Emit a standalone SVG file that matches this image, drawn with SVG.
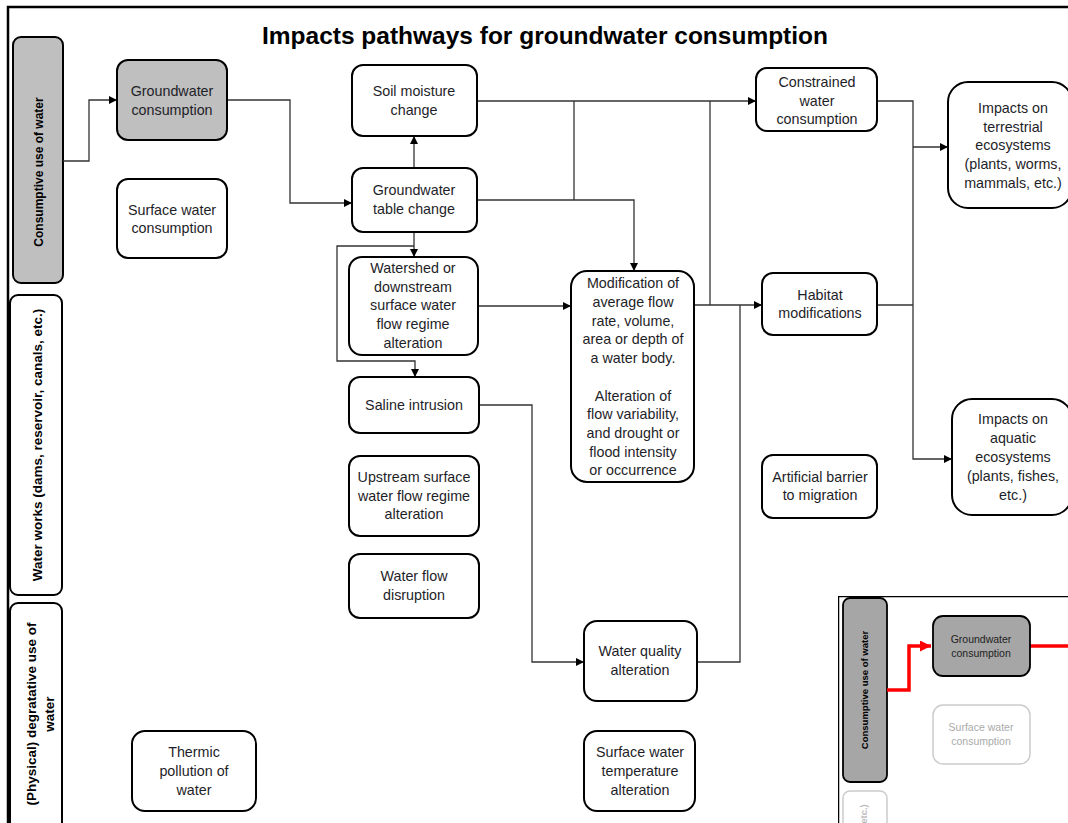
<svg xmlns="http://www.w3.org/2000/svg" width="1068" height="823" viewBox="0 0 1068 823">
<defs>
<marker id="arr" viewBox="0 0 10 10" refX="10" refY="5" markerWidth="9" markerHeight="8" markerUnits="userSpaceOnUse" orient="auto"><path d="M0,0 L10,5 L0,10 z" fill="#000"/></marker>
<marker id="arrR" viewBox="0 0 10 10" refX="10" refY="5" markerWidth="12" markerHeight="11" markerUnits="userSpaceOnUse" orient="auto"><path d="M0,0 L10,5 L0,10 z" fill="#f00"/></marker>
<clipPath id="insetClip"><rect x="838" y="596" width="230" height="227"/></clipPath>
</defs>
<style>
.box{fill:#fff;stroke:#000;stroke-width:2}
.gray{fill:#bfbfbf;stroke:#000;stroke-width:2}
.t{font-family:"Liberation Sans",Arial,sans-serif;font-size:14.3px;fill:#1e1e28;text-anchor:middle}
.cat{font-family:"Liberation Sans",Arial,sans-serif;font-size:13px;font-weight:bold;fill:#000;text-anchor:middle}
.c{fill:none;stroke:#333;stroke-width:1.3}
.cr{fill:none;stroke:#f00;stroke-width:3.5}
.ti{font-family:"Liberation Sans",Arial,sans-serif;font-size:10.5px;fill:#222;text-anchor:middle}
</style>
<rect width="1068" height="823" fill="#fff"/>
<path d="M8,823 V7 H1068" fill="none" stroke="#000" stroke-width="2.5"/>
<text x="545" y="44" font-family="'Liberation Sans',Arial,sans-serif" font-size="24" font-weight="bold" text-anchor="middle" textLength="566" lengthAdjust="spacingAndGlyphs" fill="#000">Impacts pathways for groundwater consumption</text>

<g id="cat-consumptive"><rect class="gray" x="13" y="37" width="50" height="246" rx="8"/><text class="cat" style="font-size:12px" transform="translate(43,172) rotate(-90)">Consumptive use of water</text></g>
<g id="cat-waterworks"><rect class="box" x="10" y="295" width="52" height="300" rx="8"/><text class="cat" style="font-size:13.5px" transform="translate(42,445) rotate(-90)">Water works (dams, reservoir, canals, etc.)</text></g>
<g id="cat-degrative"><rect class="box" x="10" y="603" width="52" height="240" rx="8"/><text class="cat" style="font-size:13.5px" transform="translate(36,714) rotate(-90)">(Physical) degratative use of</text><text class="cat" style="font-size:13.5px" transform="translate(54,714) rotate(-90)">water</text></g>

<g id="connectors">
<path class="c" d="M63,161 H89 V100 H117" marker-end="url(#arr)"/>
<path class="c" d="M227,100 H290 V203 H352" marker-end="url(#arr)"/>
<path class="c" d="M414,168 V136" marker-end="url(#arr)"/>
<path class="c" d="M414,232 V257" marker-end="url(#arr)"/>
<path class="c" d="M414,246 H337 V361 H415 V377" marker-end="url(#arr)"/>
<path class="c" d="M477,101 H756" marker-end="url(#arr)"/>
<path class="c" d="M574,101 V200"/>
<path class="c" d="M477,200 H634 V271" marker-end="url(#arr)"/>
<path class="c" d="M478,306 H571" marker-end="url(#arr)"/>
<path class="c" d="M694,305 H762" marker-end="url(#arr)"/>
<path class="c" d="M710,101 V305"/>
<path class="c" d="M479,405 H532 V662 H584" marker-end="url(#arr)"/>
<path class="c" d="M697,662 H740 V305"/>
<path class="c" d="M877,101 H913 V459 H952" marker-end="url(#arr)"/>
<path class="c" d="M877,305 H913"/>
<path class="c" d="M913,147 H948" marker-end="url(#arr)"/>
</g>

<g id="n-gwc"><rect class="gray" x="117" y="60" width="110" height="80" rx="11"/><text class="t" x="172" y="96">Groundwater</text><text class="t" x="172" y="115">consumption</text></g>
<g id="n-swc"><rect class="box" x="117" y="179" width="110" height="79" rx="11"/><text class="t" x="172" y="215">Surface water</text><text class="t" x="172" y="233">consumption</text></g>
<g id="n-soil"><rect class="box" x="352" y="65" width="125" height="71" rx="11"/><text class="t" x="414" y="96">Soil moisture</text><text class="t" x="414" y="115">change</text></g>
<g id="n-gwt"><rect class="box" x="352" y="168" width="125" height="64" rx="11"/><text class="t" x="414" y="195">Groundwater</text><text class="t" x="414" y="214">table change</text></g>
<g id="n-watershed"><rect class="box" x="349" y="257" width="129" height="98" rx="13"/><text class="t" x="413" y="273">Watershed or</text><text class="t" x="413" y="292">downstream</text><text class="t" x="413" y="310">surface water</text><text class="t" x="413" y="329">flow regime</text><text class="t" x="413" y="348">alteration</text></g>
<g id="n-mod"><rect class="box" x="571" y="271" width="123" height="211" rx="16"/><text class="t" x="633" y="288">Modification of</text><text class="t" x="633" y="307">average flow</text><text class="t" x="633" y="326">rate, volume,</text><text class="t" x="633" y="344">area or depth of</text><text class="t" x="633" y="363">a water body.</text><text class="t" x="633" y="401">Alteration  of</text><text class="t" x="633" y="419">flow variability,</text><text class="t" x="633" y="438">and drought or</text><text class="t" x="633" y="457">flood intensity</text><text class="t" x="633" y="475">or occurrence</text></g>
<g id="n-saline"><rect class="box" x="349" y="377" width="130" height="56" rx="11"/><text class="t" x="414" y="410">Saline intrusion</text></g>
<g id="n-upstream"><rect class="box" x="349" y="456" width="130" height="80" rx="11"/><text class="t" x="414" y="482">Upstream surface</text><text class="t" x="414" y="501">water flow regime</text><text class="t" x="414" y="519">alteration</text></g>
<g id="n-disrupt"><rect class="box" x="349" y="554" width="130" height="64" rx="11"/><text class="t" x="414" y="581">Water flow</text><text class="t" x="414" y="600">disruption</text></g>
<g id="n-quality"><rect class="box" x="584" y="621" width="113" height="80" rx="13"/><text class="t" x="640" y="656">Water quality</text><text class="t" x="640" y="675">alteration</text></g>
<g id="n-temp"><rect class="box" x="584" y="731" width="111" height="80" rx="13"/><text class="t" x="640" y="757">Surface water</text><text class="t" x="640" y="776">temperature</text><text class="t" x="640" y="795">alteration</text></g>
<g id="n-thermic"><rect class="box" x="132" y="731" width="124" height="80" rx="13"/><text class="t" x="194" y="757">Thermic</text><text class="t" x="194" y="776">pollution of</text><text class="t" x="194" y="795">water</text></g>
<g id="n-constrained"><rect class="box" x="756" y="68" width="121" height="63" rx="11"/><text class="t" x="817" y="87">Constrained</text><text class="t" x="817" y="106">water</text><text class="t" x="817" y="124">consumption</text></g>
<g id="n-terrestrial"><rect class="box" x="948" y="82" width="124" height="126" rx="20"/><text class="t" x="1013" y="113">Impacts on</text><text class="t" x="1013" y="132">terrestrial</text><text class="t" x="1013" y="150">ecosystems</text><text class="t" x="1013" y="169">(plants, worms,</text><text class="t" x="1013" y="188">mammals,  etc.)</text></g>
<g id="n-habitat"><rect class="box" x="762" y="273" width="115" height="62" rx="11"/><text class="t" x="820" y="300">Habitat</text><text class="t" x="820" y="318">modifications</text></g>
<g id="n-barrier"><rect class="box" x="762" y="455" width="115" height="63" rx="11"/><text class="t" x="820" y="482">Artificial barrier</text><text class="t" x="820" y="500">to migration</text></g>
<g id="n-aquatic"><rect class="box" x="952" y="399" width="120" height="116" rx="20"/><text class="t" x="1013" y="424">Impacts on</text><text class="t" x="1013" y="443">aquatic</text><text class="t" x="1013" y="462">ecosystems</text><text class="t" x="1013" y="481">(plants, fishes,</text><text class="t" x="1013" y="500">etc.)</text></g>

<g id="inset" clip-path="url(#insetClip)">
<rect x="838" y="596" width="260" height="260" fill="#fff" stroke="#000" stroke-width="2.5"/>
<g id="inset-cat"><rect x="843" y="598" width="44" height="184" rx="7" fill="#a6a6a6" stroke="#000" stroke-width="1.8"/><text transform="translate(868,690) rotate(-90)" font-family="'Liberation Sans',Arial,sans-serif" font-size="9.5" font-weight="bold" text-anchor="middle" fill="#000">Consumptive use of water</text></g>
<g id="inset-cat2"><rect x="843" y="791" width="44" height="60" rx="7" fill="#fff" stroke="#ccc" stroke-width="1.5"/><text transform="translate(867,814) rotate(-90)" font-family="'Liberation Sans',Arial,sans-serif" font-size="9.5" font-weight="bold" text-anchor="middle" fill="#bbb">etc.)</text></g>
<g id="inset-connectors">
<path class="cr" d="M887,690 H909 V646 H931" marker-end="url(#arrR)"/>
<path class="cr" d="M1030,646 H1070"/>
</g>
<g id="inset-gwc"><rect x="933" y="616" width="97" height="60" rx="10" fill="#a6a6a6" stroke="#000" stroke-width="1.8"/><text class="ti" x="981" y="643">Groundwater</text><text class="ti" x="981" y="657">consumption</text></g>
<g id="inset-swc"><rect x="933" y="705" width="97" height="59" rx="10" fill="#fff" stroke="#ccc" stroke-width="1.5"/><text class="ti" x="981" y="731" style="fill:#aaa">Surface water</text><text class="ti" x="981" y="745" style="fill:#aaa">consumption</text></g>
</g>
</svg>
